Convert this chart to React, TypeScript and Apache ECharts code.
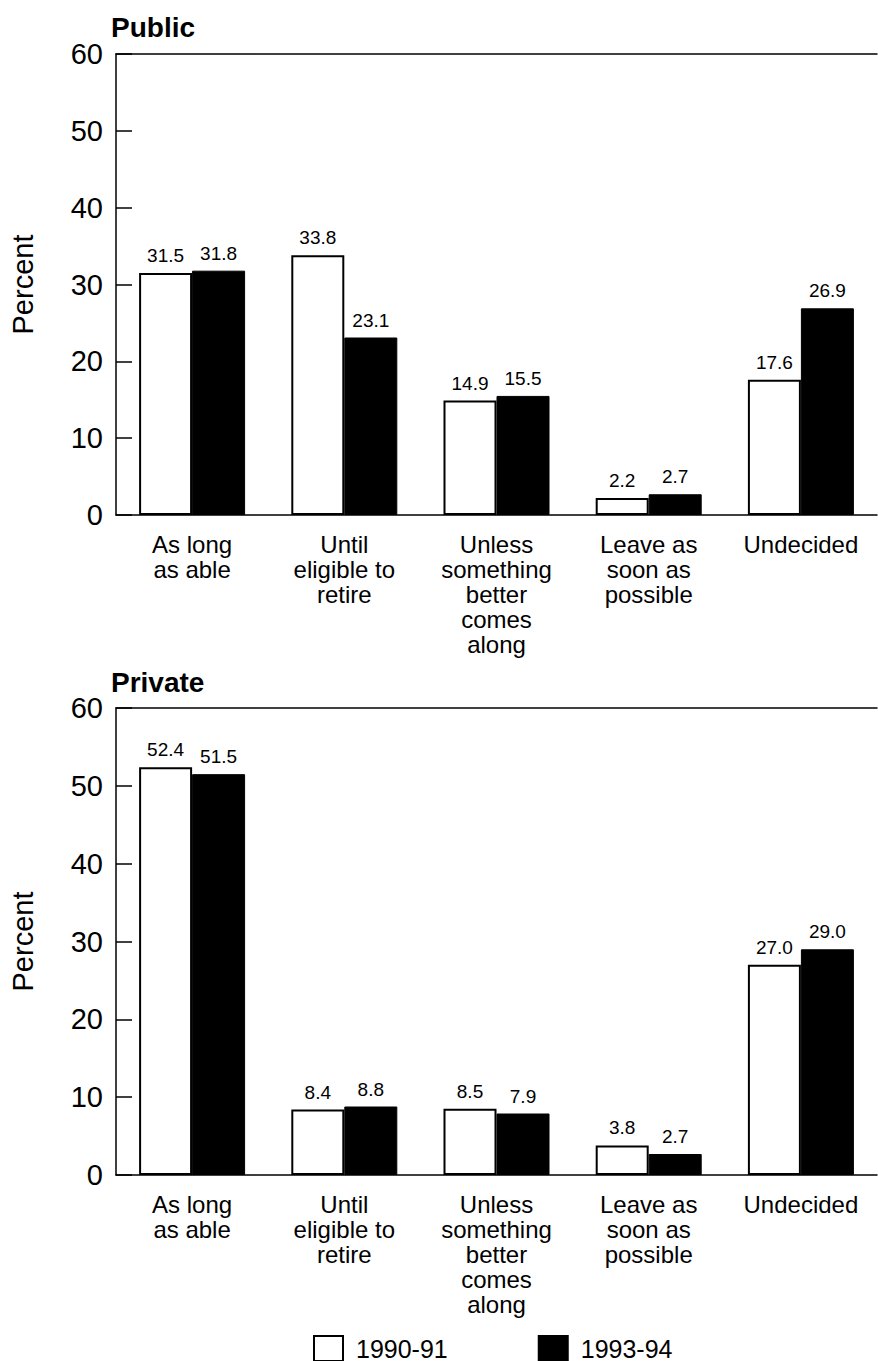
import React, { useEffect, useRef } from "react";
import * as echarts from "echarts";

const categories = [
  "As long\nas able",
  "Until\neligible to\nretire",
  "Unless\nsomething\nbetter\ncomes\nalong",
  "Leave as\nsoon as\npossible",
  "Undecided",
];
const seriesNames = ["1990-91", "1993-94"];
const public9091 = [31.5, 33.8, 14.9, 2.2, 17.6];
const public9394 = [31.8, 23.1, 15.5, 2.7, 26.9];
const private9091 = [52.4, 8.4, 8.5, 3.8, 27.0];
const private9394 = [51.5, 8.8, 7.9, 2.7, 29.0];
const panelTitles = ["Public", "Private"];
const yMin = 0;
const yMax = 60;
const yInterval = 10;

const FONT = "Liberation Sans, Arial, Helvetica, sans-serif";

export default function App() {
  const ref = useRef<HTMLDivElement>(null);
  useEffect(() => {
    document.body.style.margin = "0";
    const chart = echarts.init(ref.current!, null, { renderer: "svg" });
    const grids = [
      { left: 116, right: 1, top: 54, height: 461 },
      { left: 116, right: 1, top: 708, height: 467 },
    ];
    const xAxes: any[] = [];
    const yAxes: any[] = [];
    grids.forEach((g, i) => {
      xAxes.push({
        type: "category",
        gridIndex: i,
        data: categories,
        axisLine: { show: true, lineStyle: { color: "#000", width: 1.5 } },
        axisTick: { show: false },
        axisLabel: {
          color: "#000",
          fontSize: 24,
          lineHeight: 25,
          margin: 17,
          fontFamily: FONT,
          interval: 0,
        },
      });
      xAxes.push({
        type: "category",
        gridIndex: i,
        position: "top",
        data: categories,
        axisLine: { show: true, lineStyle: { color: "#000", width: 1.5 } },
        axisTick: { show: false },
        axisLabel: { show: false },
      });
      yAxes.push({
        type: "value",
        gridIndex: i,
        min: yMin,
        max: yMax,
        interval: yInterval,
        name: "Percent",
        nameLocation: "middle",
        nameGap: 79,
        nameTextStyle: { color: "#000", fontSize: 29, fontFamily: FONT },
        axisLine: { show: true, lineStyle: { color: "#000", width: 1.5 } },
        axisTick: { show: true, inside: true, length: 16, lineStyle: { color: "#000", width: 1.5 } },
        axisLabel: { color: "#000", fontSize: 29, margin: 13, fontFamily: FONT },
        splitLine: { show: false },
      });
    });
    const label = {
      show: true,
      position: "top",
      distance: 8,
      color: "#000",
      fontSize: 19,
      fontFamily: FONT,
      formatter: (p: any) => Number(p.value).toFixed(1),
    };
    const whiteStyle = { color: "#fff", borderColor: "#000", borderWidth: 2 };
    const blackStyle = { color: "#000", borderColor: "#000", borderWidth: 1 };
    const dataSets = [
      [public9091, public9394],
      [private9091, private9394],
    ];
    const series: any[] = [];
    dataSets.forEach((pair, i) => {
      pair.forEach((vals, j) => {
        series.push({
          type: "bar",
          name: seriesNames[j],
          xAxisIndex: i * 2,
          yAxisIndex: i,
          data: vals,
          barWidth: 53,
          barGap: "0%",
          itemStyle: j === 0 ? whiteStyle : blackStyle,
          label,
        });
      });
    });
    chart.setOption({
      animation: false,
      backgroundColor: "#fff",
      title: panelTitles.map((t, i) => ({
        text: t,
        left: 111,
        top: i === 0 ? 13 : 668,
        padding: 0,
        textStyle: { color: "#000", fontSize: 28, fontWeight: "bold", fontFamily: FONT },
      })),
      legend: {
        data: seriesNames,
        left: 313,
        top: 1335,
        itemWidth: 29,
        itemHeight: 25,
        itemGap: 90,
        padding: 0,
        icon: "rect",
        textStyle: { color: "#000", fontSize: 25, lineHeight: 25, fontFamily: FONT, padding: [0, 0, 0, 8] },
      },
      grid: grids,
      xAxis: xAxes,
      yAxis: yAxes,
      series,
    });
    return () => chart.dispose();
  }, []);
  return <div ref={ref} style={{ width: 878, height: 1361 }} />;
}
